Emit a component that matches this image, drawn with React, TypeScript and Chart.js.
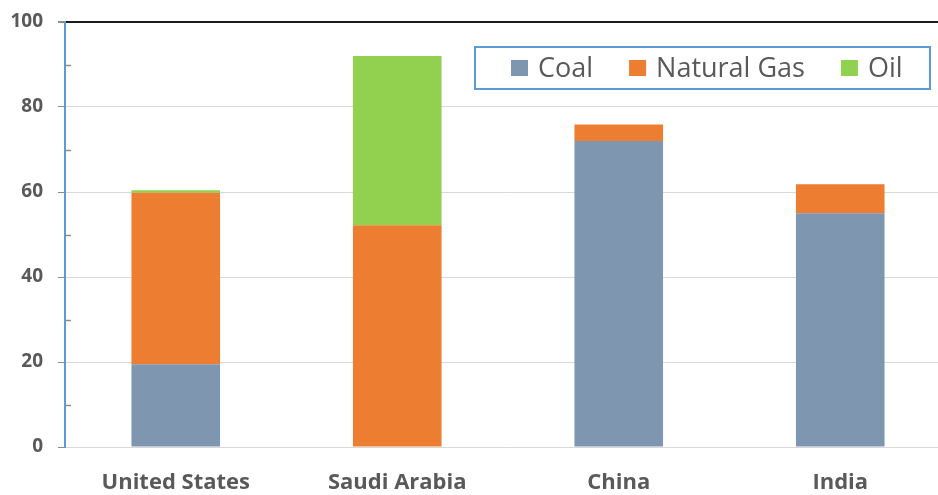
import React, { useEffect, useRef } from "react";
import { Chart, registerables } from "chart.js";

Chart.register(...registerables);

// Source shares (%) for each country, stacked bottom to top
const countries = ["United States", "Saudi Arabia", "China", "India"];
const coal = [19.5, 0, 72, 55];
const naturalGas = [40.3, 52.2, 3.9, 6.8];
const oil = [0.6, 39.8, 0, 0];
const yTicks = [0, 20, 40, 60, 80, 100];

const seriesNames = ["Coal", "Natural Gas", "Oil"];
const seriesColors = ["#7F96B1", "#ED7D31", "#92D050"];

const textColor = "#595959";
const fontFamily = "'Open Sans', 'Noto Sans', sans-serif";

// Boxed legend drawn inside the plot area, upper right
const boxedLegend = {
  id: "boxedLegend",
  afterDraw(chart: any) {
    const ctx = chart.ctx;
    const left = 475;
    const top = 47;
    const width = 455;
    const height = 42;
    ctx.save();
    ctx.fillStyle = "#ffffff";
    ctx.fillRect(left, top, width, height);
    ctx.strokeStyle = "#5B9BD5";
    ctx.lineWidth = 2;
    ctx.strokeRect(left, top, width, height);
    ctx.font = `27px ${fontFamily}`;
    ctx.textBaseline = "middle";
    let x = 511;
    const cy = top + height / 2;
    chart.data.datasets.forEach((ds: any) => {
      ctx.fillStyle = ds.backgroundColor;
      ctx.fillRect(x, cy - 8, 17, 16);
      x += 27;
      ctx.fillStyle = textColor;
      ctx.fillText(ds.label, x, cy + 1);
      x += ctx.measureText(ds.label).width + 36;
    });
    ctx.restore();
  },
};

// Short inside tick marks halfway between the labelled values
const minorTicks = {
  id: "minorTicks",
  afterDraw(chart: any) {
    const y = chart.scales.y;
    const ctx = chart.ctx;
    ctx.save();
    ctx.strokeStyle = "#8C8C8C";
    ctx.lineWidth = 1.5;
    for (let i = 0; i < yTicks.length - 1; i++) {
      const v = (yTicks[i] + yTicks[i + 1]) / 2;
      const py = Math.round(y.getPixelForValue(v)) + 0.5;
      ctx.beginPath();
      ctx.moveTo(y.right, py);
      ctx.lineTo(y.right + 6, py);
      ctx.stroke();
    }
    ctx.restore();
  },
};

export default function App() {
  const canvasRef = useRef<HTMLCanvasElement | null>(null);

  useEffect(() => {
    if (!canvasRef.current) return;
    const values = [coal, naturalGas, oil];
    const chart = new Chart(canvasRef.current, {
      type: "bar",
      data: {
        labels: countries,
        datasets: seriesNames.map((name, i) => ({
          label: name,
          data: values[i],
          backgroundColor: seriesColors[i],
          borderWidth: 0,
          barPercentage: 0.4,
          categoryPercentage: 1,
        })),
      },
      options: {
        animation: false,
        responsive: true,
        maintainAspectRatio: false,
        layout: { padding: { top: 22, right: 0, left: 0, bottom: 0 } },
        plugins: {
          legend: { display: false },
          tooltip: { enabled: false },
        },
        scales: {
          x: {
            stacked: true,
            grid: { display: true, drawOnChartArea: false, drawTicks: false },
            border: { display: true, color: "#D9D9D9", width: 1 },
            ticks: {
              color: textColor,
              padding: 23,
              font: { family: fontFamily, size: 22, weight: "bold" },
            },
            afterFit(scale: any) {
              scale.height = 48;
            },
          },
          y: {
            stacked: true,
            min: 0,
            max: 100,
            afterBuildTicks(scale: any) {
              scale.ticks = yTicks.map((v) => ({ value: v }));
            },
            ticks: {
              color: textColor,
              padding: 15,
              font: { family: fontFamily, size: 19, weight: "bold" },
            },
            grid: {
              color: (c: any) => (c.tick && c.tick.value === 100 ? "#1A1A1A" : "#D9D9D9"),
              lineWidth: (c: any) => (c.tick && c.tick.value === 100 ? 2 : 1),
              tickColor: "#8C8C8C",
              tickLength: 7,
            },
            border: { display: true, color: "#5B9BD5", width: 2 },
            afterFit(scale: any) {
              scale.width = 65;
              scale.paddingTop = 0;
            },
          },
        },
      },
      plugins: [minorTicks, boxedLegend],
    } as any);
    return () => chart.destroy();
  }, []);

  return (
    <div
      style={{
        position: "fixed",
        left: 0,
        top: 0,
        width: 938,
        height: 495,
        overflow: "hidden",
        background: "#ffffff",
      }}
    >
      <div style={{ position: "relative", width: 951, height: 495 }}>
        <canvas ref={canvasRef} />
      </div>
    </div>
  );
}
